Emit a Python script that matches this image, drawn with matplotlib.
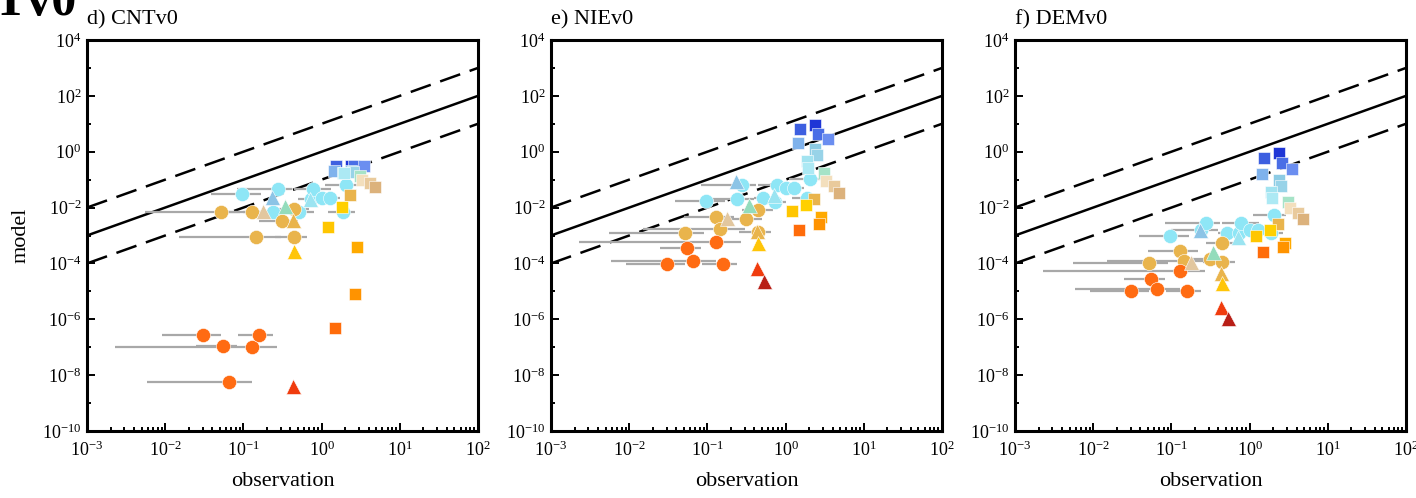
import numpy as np
import matplotlib
matplotlib.use("Agg")
import matplotlib.pyplot as plt
from matplotlib.ticker import FixedLocator, FixedFormatter, LogLocator, NullFormatter

plt.rcParams["font.family"] = ["Liberation Serif", "DejaVu Serif"]
plt.rcParams["mathtext.fontset"] = "custom"
plt.rcParams["mathtext.rm"] = "Liberation Serif"
plt.rcParams["mathtext.it"] = "Liberation Serif:italic"
plt.rcParams["mathtext.bf"] = "Liberation Serif:bold"

# ---------------------------------------------------------------- data
panel_titles = ["d) CNTv0", "e) NIEv0", "f) DEMv0"]

x_exponents = [-3, -2, -1, 0, 1, 2]
y_exponents = [4, 2, 0, -2, -4, -6, -8, -10]

# cyan circles: observation, observed range, model (CNT, NIE, DEM)
cyan_obs = [0.097, 0.24, 0.275, 0.52, 0.74, 0.78, 1.0, 1.27, 1.87, 2.05]
cyan_lo = [0.038, 0.10, 0.083, 0.40, 0.50, 0.45, 0.65, 0.95, 1.2, 1.1]
cyan_hi = [0.17, 0.40, 0.42, 0.80, 1.0, 1.30, 1.5, 1.7, 2.7, 2.9]
cyan_cnt = [0.031, 0.007, 0.046, 0.007, 0.02, 0.046, 0.022, 0.022, 0.007, 0.065]
cyan_nie = [0.017, 0.02, 0.064, 0.022, 0.016, 0.064, 0.05, 0.05, 0.022, 0.105]
cyan_dem = [0.00095, 0.0016, 0.0028, 0.0012, 0.0012, 0.0028, 0.0016, 0.0016, 0.0012, 0.0054]

# goldenrod circles
gold_obs = [0.052, 0.13, 0.145, 0.31, 0.44, 0.45]
gold_lo = [0.0055, 0.05, 0.015, 0.16, 0.28, 0.25]
gold_hi = [0.09, 0.22, 0.30, 0.50, 0.70, 0.66]
gold_cnt = [0.007, 0.007, 0.0009, 0.0033, 0.009, 0.0009]
gold_nie = [0.0012, 0.0046, 0.0017, 0.0039, 0.008, 0.0013]
gold_dem = [0.000105, 0.00028, 0.000123, 0.000145, 0.00054, 0.000112]

# orange circles
orange_obs = [0.030, 0.055, 0.066, 0.13, 0.16]
orange_lo = [0.009, 0.025, 0.0058, 0.0023, 0.085]
orange_hi = [0.051, 0.083, 0.13, 0.27, 0.24]
orange_cnt = [2.7e-7, 1.1e-7, 5.7e-9, 1.0e-7, 2.7e-7]
orange_nie = [9.5e-5, 3.6e-4, 1.2e-4, 5.9e-4, 9.5e-5]
orange_dem = [1.0e-5, 2.8e-5, 1.2e-5, 5.4e-5, 1.0e-5]

# triangles (one point per site)
tri_obs = [0.23, 0.71, 0.34, 0.18, 0.43, 0.45, 0.43, 0.53]
tri_cnt = [0.024, 0.02, 0.0115, 0.0076, 0.0036, 0.00028, 4e-9, np.nan]
tri_nie = [0.089, 0.028, 0.012, 0.0043, 0.0015, 0.00054, 6.9e-5, 2.3e-5]
tri_dem = [0.0016, 0.0009, 0.00026, 0.00011, 4.6e-5, 2e-5, 2.8e-6, 1.1e-6]

# squares (one point per site)
sq_obs = [1.55, 2.35, 2.6, 3.45, 1.42, 2.4, 2.5, 1.9, 1.95, 3.1,
          3.3, 4.2, 4.8, 2.3, 1.8, 1.2, 2.85, 2.65, 1.5]
sq_cnt = [0.3, 0.3, 0.3, 0.3, 0.2, 0.2, 0.19, 0.18, 0.17, 0.13,
          0.1, 0.076, 0.055, 0.028, 0.0105, 0.002, 0.0004, 8e-6, 4.9e-7]
sq_nie = [6.5, 9.0, 4.3, 2.9, 2.0, 1.26, 0.76, 0.47, 0.26, 0.17,
          0.09, 0.059, 0.033, 0.02, 0.012, 0.0075, 0.0046, 0.0026, 0.0016]
sq_dem = [0.6, 0.9, 0.39, 0.24, 0.16, 0.098, 0.059, 0.036, 0.022, 0.016,
          0.0095, 0.0065, 0.0039, 0.0026, 0.0016, 0.00095, 0.00054, 0.00039, 0.00026]

# ---------------------------------------------------------------- styles
cyan_color = "#8ee6f6"
gold_color = "#e9b44c"
orange_color = "#ff6b12"
tri_colors = ["#8cc4e6", "#9be4f1", "#93dcbc", "#e2c79f", "#e9b44c",
              "#ffc508", "#f03c0e", "#b81f17"]
sq_colors = ["#3d5fe0", "#1f36d6", "#4a6ee6", "#6b8ef0", "#7fb2ec",
             "#8ccbe4", "#98d3e8", "#a2e3f0", "#ace9f4", "#a6e3c7",
             "#f3dfbd", "#e9ca9c", "#dcb27c", "#e9b44c", "#ffd000",
             "#ffc600", "#ffaa00", "#ff9300", "#ff6c0a"]

bar_color = "#a8a8a8"

W, H = 1416, 498
fig = plt.figure(figsize=(W / 100, H / 100), dpi=100)

ax_left_px = [87, 551, 1015]
ax_w_px, ax_top_px, ax_bot_px = 391, 40, 431

circle_groups = [
    (cyan_obs, cyan_lo, cyan_hi, [cyan_cnt, cyan_nie, cyan_dem], cyan_color),
    (gold_obs, gold_lo, gold_hi, [gold_cnt, gold_nie, gold_dem], gold_color),
    (orange_obs, orange_lo, orange_hi, [orange_cnt, orange_nie, orange_dem], orange_color),
]
tri_models = [tri_cnt, tri_nie, tri_dem]
sq_models = [sq_cnt, sq_nie, sq_dem]

ref = np.array([1e-3, 1e2])

for k, title in enumerate(panel_titles):
    ax = fig.add_axes([ax_left_px[k] / W, (H - ax_bot_px) / H,
                       ax_w_px / W, (ax_bot_px - ax_top_px) / H])
    ax.set_xscale("log")
    ax.set_yscale("log")
    ax.set_xlim(1e-3, 1e2)
    ax.set_ylim(1e-10, 1e4)

    # 1:1 line and factor-of-ten lines
    ax.plot(ref, ref, color="black", lw=1.8, zorder=1)
    ax.plot(ref, ref * 10, color="black", lw=1.8, ls=(0, (8.5, 4)), zorder=1)
    ax.plot(ref, ref / 10, color="black", lw=1.8, ls=(0, (8.5, 4)), zorder=1)

    # observed ranges
    for obs, lo, hi, models, color in circle_groups:
        ax.hlines(models[k], lo, hi, color=bar_color, lw=1.6, zorder=2)

    for obs, lo, hi, models, color in circle_groups:
        ax.plot(obs, models[k], "o", ms=10.2, color=color, mec="white",
                mew=0.4, ls="none", zorder=3)

    for x, y, c in zip(tri_obs, tri_models[k], tri_colors):
        ax.plot([x], [y], "^", ms=10.8, color=c, mec="white", mew=0.4,
                ls="none", zorder=4)

    for x, y, c in zip(sq_obs, sq_models[k], sq_colors):
        ax.plot([x], [y], "s", ms=9.2, color=c, mec="white", mew=0.4,
                ls="none", zorder=5)

    # axes styling
    for s in ax.spines.values():
        s.set_linewidth(2.2)
    ax.xaxis.set_major_locator(FixedLocator([10.0 ** e for e in x_exponents]))
    ax.xaxis.set_major_formatter(FixedFormatter([f"$10^{{{e}}}$" for e in x_exponents]))
    ax.xaxis.set_minor_locator(LogLocator(base=10, subs=np.arange(2, 10)))
    ax.xaxis.set_minor_formatter(NullFormatter())
    ax.yaxis.set_major_locator(FixedLocator([10.0 ** e for e in y_exponents]))
    ax.yaxis.set_major_formatter(FixedFormatter([f"$10^{{{e}}}$" for e in y_exponents]))
    ax.yaxis.set_minor_locator(LogLocator(base=10, subs=(1.0,), numticks=30))
    ax.yaxis.set_minor_formatter(NullFormatter())
    ax.tick_params(axis="both", which="both", direction="in", top=False, right=False,
                   width=1.4, labelsize=13)
    ax.tick_params(axis="both", which="major", length=6)
    ax.tick_params(axis="both", which="minor", length=3)
    ax.tick_params(axis="x", which="major", pad=7)
    ax.tick_params(axis="y", which="major", pad=4)

    ax.set_title(title, loc="left", fontsize=16, pad=11)
    ax.set_xlabel("observation", fontsize=16)
    ax.xaxis.set_label_coords(0.5, -0.105)
    if k == 0:
        ax.set_ylabel("model", fontsize=16)
        ax.yaxis.set_label_coords(-0.145, 0.5)

fig.text(-6.5 / W, 1 - 15 / H, "Tv0", fontsize=36, fontweight="bold",
         ha="left", va="baseline")

fig.savefig("out.png", dpi=100)
